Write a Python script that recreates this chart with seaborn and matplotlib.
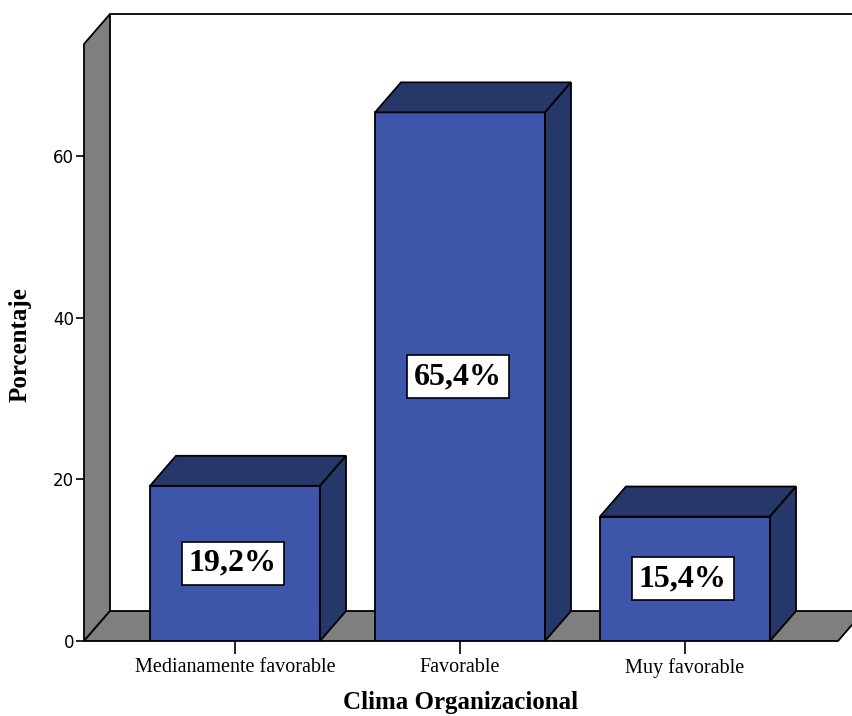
import matplotlib
matplotlib.use("Agg")
import matplotlib.pyplot as plt
from matplotlib.patches import Polygon
import seaborn as sns
import pandas as pd

categories = ["Medianamente favorable", "Favorable", "Muy favorable"]
percentages = [19.2, 65.4, 15.4]
value_labels = ["19,2%", "65,4%", "15,4%"]
y_ticks = [0, 20, 40, 60]

sns.set_theme(style="white")
plt.rcParams["font.family"] = ["DejaVu Sans"]
plt.rcParams["text.color"] = "black"
plt.rcParams["axes.labelcolor"] = "black"
plt.rcParams["xtick.color"] = "black"
plt.rcParams["ytick.color"] = "black"

W, H = 853, 716
fig = plt.figure(figsize=(W / 100, H / 100), dpi=100)

# axes box in pixels: left 84, right 853, bottom 641, top 14
ax = fig.add_axes([84 / W, (H - 641) / H, (853 - 84) / W, (641 - 14) / H])
px_per_x = 225.0
px_per_y = 8.083
x0 = -(235 - 84) / px_per_x
x1 = (853 - 235) / px_per_x
floor_end = (838 - 235) / px_per_x
ytop = (641 - 14) / px_per_y

# depth offset of the 3D look, in data units
ddx = 26 / px_per_x
ddy = 30 / px_per_y
bar_w = 170 / px_per_x

front_color = "#3D56A9"
dark_color = "#263769"
wall_color = "#7F7F7F"
lw = 1.3

# back wall top edge
ax.plot([x0 + ddx, x1 + 0.1], [ytop, ytop], color="black", lw=lw, clip_on=False, zorder=1)

# left wall
left_wall = Polygon([(x0, 0), (x0 + ddx, ddy), (x0 + ddx, ytop), (x0, ytop - ddy)],
                    closed=True, facecolor=wall_color, edgecolor="black", lw=lw,
                    clip_on=False, zorder=1)
ax.add_patch(left_wall)

# floor
floor = Polygon([(x0, 0), (x0 + ddx, ddy), (floor_end + ddx, ddy), (floor_end, 0)],
                closed=True, facecolor=wall_color, edgecolor="black", lw=lw,
                clip_on=False, zorder=1)
ax.add_patch(floor)

df = pd.DataFrame({"Clima": categories, "Porcentaje": percentages})
sns.barplot(data=df, x="Clima", y="Porcentaje", color=front_color, saturation=1,
            edgecolor="black", linewidth=lw, width=bar_w, ax=ax, zorder=3)
ax.set_xlim(x0, x1)
ax.set_ylim(0, ytop)

for i, v in enumerate(percentages):
    l, r = i - bar_w / 2, i + bar_w / 2
    top = Polygon([(l, v), (l + ddx, v + ddy), (r + ddx, v + ddy), (r, v)],
                  closed=True, facecolor=dark_color, edgecolor="black", lw=lw,
                  zorder=3, clip_on=False)
    side = Polygon([(r, 0), (r + ddx, ddy), (r + ddx, v + ddy), (r, v)],
                   closed=True, facecolor=dark_color, edgecolor="black", lw=lw,
                   zorder=3, clip_on=False)
    ax.add_patch(top)
    ax.add_patch(side)
    ax.text(i - 0.01, v / 2, value_labels[i], ha="center", va="center",
            fontsize=23, fontweight="bold", family="Liberation Serif", zorder=5,
            bbox=dict(boxstyle="square,pad=0.22", facecolor="white",
                      edgecolor="black", lw=1.2))

for s in ax.spines.values():
    s.set_visible(False)

ax.set_yticks(y_ticks)
ax.set_yticklabels([str(t) for t in y_ticks], fontsize=12)
ax.tick_params(axis="y", left=True, length=6, width=1.2, color="black", pad=1)
ax.tick_params(axis="x", bottom=True, length=9, width=1.2, color="black", pad=3)
for lab in ax.get_xticklabels():
    lab.set_fontfamily("Liberation Serif")
    lab.set_fontsize(14.5)

ax.set_xlabel("Clima Organizacional", fontsize=18, fontweight="bold",
              family="Liberation Serif")
ax.set_ylabel("Porcentaje", fontsize=18, fontweight="bold",
              family="Liberation Serif")
ax.xaxis.set_label_coords(0.49, -0.079)
ax.yaxis.set_label_coords(-0.068, 0.472)

fig.savefig("out.png", dpi=100)
